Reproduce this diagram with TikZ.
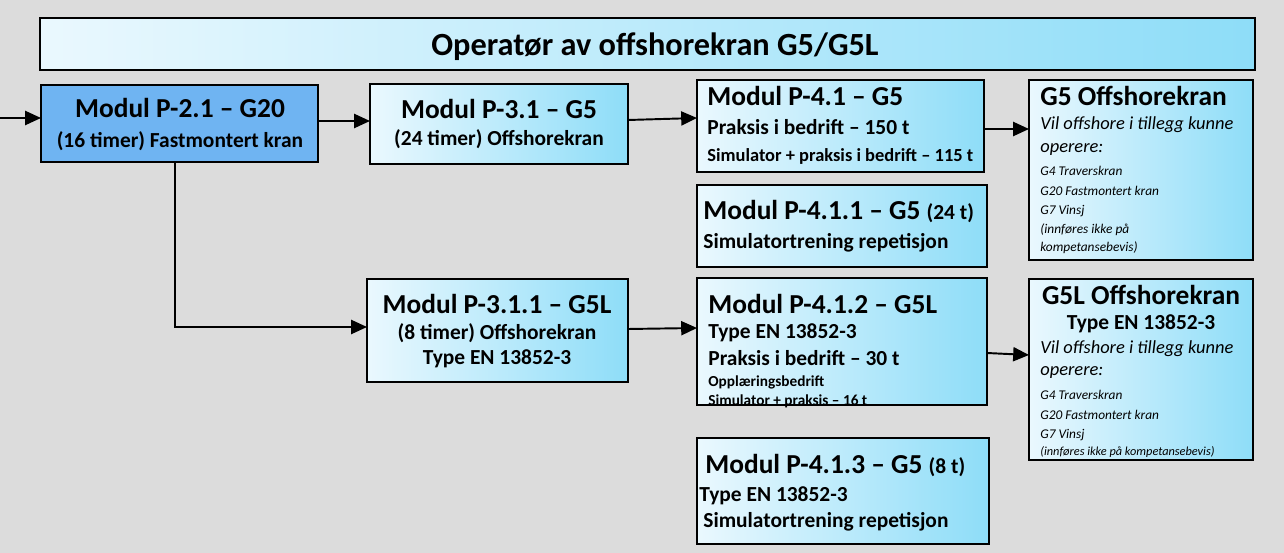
\documentclass[tikz,border=0pt]{standalone}
\usepackage{fontspec}
\setmainfont{Carlito}
\usetikzlibrary{arrows.meta}
\definecolor{bg}{HTML}{DCDCDC}
\definecolor{lb}{HTML}{EAF8FE}
\definecolor{db}{HTML}{8EDDF8}
\definecolor{mb}{HTML}{6FB4F2}
\begin{document}
\begin{tikzpicture}[x=0.02cm,y=-0.02cm,
  box/.style={draw=black,line width=1.3pt,left color=lb,right color=db},
  hd/.style={font=\fontsize{15.6}{17}\selectfont\bfseries,inner sep=0pt},
  sb/.style={font=\fontsize{12.2}{14}\selectfont\bfseries,inner sep=0pt},
  tn/.style={font=\fontsize{8.7}{10}\selectfont\bfseries,inner sep=0pt},
  it/.style={font=\fontsize{10.5}{12}\selectfont\itshape,inner sep=0pt},
  si/.style={font=\fontsize{11.3}{13}\selectfont\itshape,inner sep=0pt},
  ar/.style={-{Triangle[length=9pt,width=8pt]},line width=1.1pt}]
\fill[bg] (0,0) rectangle (1284,553);
\useasboundingbox (0,0) rectangle (1284,553);
% boxes
\draw[box,line width=0.8pt] (40,18) rectangle (1255,70);
\node[font=\fontsize{18.4}{20}\selectfont\bfseries,inner sep=0pt] (title) at (655,47) {Operatør av offshorekran G5/G5L};
\draw[fill=mb,line width=1.3pt] (41,85) rectangle (318,162);
\draw[box] (370,84) rectangle (628,164);
\draw[box] (697,80) rectangle (984,172);
\draw[box] (1029,80) rectangle (1253,260);
\draw[box] (697,185) rectangle (987,267);
\draw[box] (367,279) rectangle (628,382);
\draw[box] (697,278) rectangle (987,405);
\draw[box] (1029,279) rectangle (1253,460);
\draw[box] (697,438) rectangle (989,544);
% texts
\node[hd] (t1) at (180,108) {Modul P-2.1 – G20};
\node[sb] (t2) at (180,141) {(16 timer) Fastmontert kran};
\node[hd] (t3) at (499,109) {Modul P-3.1 – G5};
\node[sb] (t4) at (499,139) {(24 timer) Offshorekran};
\node[hd,anchor=west] (t5) at (707,96) {Modul P-4.1 – G5};
\node[sb,anchor=west] (t6) at (707,127) {Praksis i bedrift – 150 t};
\node[sb,anchor=west,font=\fontsize{10.5}{12}\selectfont\bfseries] (t7) at (707,156) {Simulator + praksis i bedrift – 115 t};
\node[hd,anchor=west] (g1) at (1040,96) {G5 Offshorekran};
\node[it,anchor=west] (g2) at (1040,125) {Vil offshore i tillegg kunne};
\node[it,anchor=west] (g3) at (1040,150) {operere:};
\node[si,anchor=west,font=\fontsize{7.6}{9}\selectfont\itshape] (g4) at (1040,171) {G4 Traverskran};
\node[si,anchor=west,font=\fontsize{7.6}{9}\selectfont\itshape] (g5) at (1040,191) {G20 Fastmontert kran};
\node[si,anchor=west,font=\fontsize{7.6}{9}\selectfont\itshape] (g6) at (1040,211) {G7 Vinsj};
\node[si,anchor=west,font=\fontsize{7.6}{9}\selectfont\itshape] (g7) at (1040,230) {(innføres ikke på};
\node[si,anchor=west,font=\fontsize{7.6}{9}\selectfont\itshape] (g8) at (1040,248) {kompetansebevis)};
\node[hd,anchor=west] (t8) at (703,212) {Modul P-4.1.1 – G5 {\fontsize{12.2}{14}\selectfont(24 t)}};
\node[sb,anchor=west] (t9) at (703,243) {Simulatortrening repetisjon};
\node[hd] (t10) at (497,304) {Modul P-3.1.1 – G5L};
\node[sb] (t11) at (497,333) {(8 timer) Offshorekran};
\node[sb] (t12) at (497,359) {Type EN 13852-3};
\node[hd,anchor=west] (t13) at (708,304) {Modul P-4.1.2 – G5L};
\node[sb,anchor=west] (t14) at (708,333) {Type EN 13852-3};
\node[sb,anchor=west] (t15) at (708,358) {Praksis i bedrift – 30 t};
\node[tn,anchor=west] (t16) at (708,382) {Opplæringsbedrift};
\node[tn,anchor=west] (t17) at (708,401) {Simulator + praksis – 16 t};
\node[hd] (h1) at (1141,295) {G5L Offshorekran};
\node[sb] (h2) at (1141,324) {Type EN 13852-3};
\node[it,anchor=west] (h3) at (1040,349) {Vil offshore i tillegg kunne};
\node[it,anchor=west] (h4) at (1040,373) {operere:};
\node[si,anchor=west,font=\fontsize{7.6}{9}\selectfont\itshape] (h5) at (1040,395) {G4 Traverskran};
\node[si,anchor=west,font=\fontsize{7.6}{9}\selectfont\itshape] (h6) at (1040,415) {G20 Fastmontert kran};
\node[si,anchor=west,font=\fontsize{7.6}{9}\selectfont\itshape] (h7) at (1040,435) {G7 Vinsj};
\node[si,anchor=west,font=\fontsize{7}{8}\selectfont\itshape] (h8) at (1040,452) {(innføres ikke på kompetansebevis)};
\node[hd,anchor=west] (t18) at (705,466) {Modul P-4.1.3 – G5 {\fontsize{12.2}{14}\selectfont(8 t)}};
\node[sb,anchor=west] (t19) at (699,496) {Type EN 13852-3};
\node[sb,anchor=west] (t20) at (703,522) {Simulatortrening repetisjon};
% connectors
\coordinate (s0) at (0,118);
\coordinate (e0) at (41,118);
\coordinate (c1a) at (318,121); \coordinate (c1b) at (370,121);
\coordinate (c2a) at (628,120); \coordinate (c2b) at (697,118);
\coordinate (c3a) at (984,129); \coordinate (c3b) at (1029,129);
\coordinate (c4a) at (175,162); \coordinate (c4b) at (367,327);
\coordinate (c5a) at (628,329); \coordinate (c5b) at (697,328);
\coordinate (c6a) at (987,353); \coordinate (c6b) at (1029,355);
\draw[ar] (s0) -- (e0);
\draw[ar] (c1a) -- (c1b);
\draw[ar] (c2a) -- (c2b);
\draw[ar] (c3a) -- (c3b);
\draw[ar] (c4a) |- (c4b);
\draw[ar] (c5a) -- (c5b);
\draw[ar] (c6a) -- (c6b);
\end{tikzpicture}
\end{document}
